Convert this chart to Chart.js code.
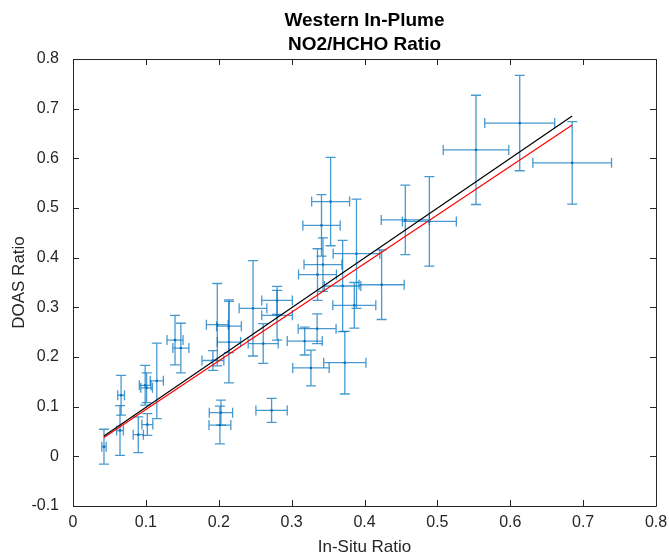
<!DOCTYPE html>
<html>
<head>
<meta charset="utf-8">
<script src="https://cdn.jsdelivr.net/npm/chart.js@4.4.0/dist/chart.umd.min.js"></script>
<style>
  html, body { margin: 0; padding: 0; background: #fff; }
  #wrap { width: 669px; height: 559px; }
</style>
</head>
<body>
<div id="wrap"><canvas id="ratioChart" width="669" height="559"></canvas></div>
<script>
// ===== Data =====
const titleLines = ['Western In-Plume', 'NO2/HCHO Ratio'];
const xLabel = 'In-Situ Ratio';
const yLabel = 'DOAS Ratio';

const xTicks = [0, 0.1, 0.2, 0.3, 0.4, 0.5, 0.6, 0.7, 0.8];
const yTicks = [-0.1, 0, 0.1, 0.2, 0.3, 0.4, 0.5, 0.6, 0.7, 0.8];

// in-situ ratio (x) and DOAS ratio (y)
const inSitu = [0.0425, 0.066, 0.0645, 0.099, 0.101, 0.0896, 0.102, 0.115, 0.140, 0.148,
                0.198, 0.214, 0.214, 0.192, 0.203, 0.2016, 0.2725, 0.247, 0.280, 0.280,
                0.261, 0.335, 0.318, 0.3265, 0.373, 0.370, 0.386, 0.4235, 0.3355, 0.343,
                0.3535, 0.341, 0.389, 0.456, 0.489, 0.553, 0.613, 0.685];
const doas   = [0.0195, 0.123, 0.052, 0.143, 0.138, 0.0436, 0.064, 0.152, 0.234, 0.218,
                0.265, 0.262, 0.230, 0.193, 0.088, 0.063, 0.0925, 0.298, 0.314, 0.284,
                0.227, 0.257, 0.232, 0.178, 0.1885, 0.343, 0.304, 0.3455, 0.366, 0.386,
                0.513, 0.465, 0.408, 0.476, 0.473, 0.617, 0.671, 0.591];
// half-widths of the error bars
const inSituErr = [0.003, 0.0046, 0.0046, 0.008, 0.008, 0.007, 0.0075, 0.009, 0.011, 0.011,
                   0.015, 0.017, 0.016, 0.015, 0.016, 0.015, 0.0215, 0.019, 0.021, 0.021,
                   0.0206, 0.026, 0.024, 0.025, 0.029, 0.025, 0.0295, 0.031, 0.026, 0.026,
                   0.026, 0.0256, 0.032, 0.033, 0.037, 0.045, 0.048, 0.054];
const doasErr   = [0.035, 0.040, 0.050, 0.040, 0.030, 0.036, 0.022, 0.076, 0.050, 0.050,
                   0.083, 0.053, 0.082, 0.020, 0.025, 0.038, 0.024, 0.096, 0.028, 0.050,
                   0.040, 0.030, 0.028, 0.036, 0.063, 0.092, 0.046, 0.070, 0.052, 0.054,
                   0.089, 0.062, 0.110, 0.070, 0.090, 0.110, 0.096, 0.083];

// fit lines (end points)
const fitX      = [0.0425, 0.685];
const blackFitY = [0.041, 0.685];
const redFitY   = [0.038, 0.667];

// ===== Styles =====
const FONT = "'Liberation Sans', Arial, Helvetica, sans-serif";
const AXIS_COLOR = '#262626';
const BLUE = '#0072BD';

// error bars drawn under the markers
const errorBarPlugin = {
    id: 'errorBars',
    beforeDatasetsDraw(chart) {
        const {ctx, chartArea, scales: {x, y}} = chart;
        const cap = 5;
        ctx.save();
        ctx.beginPath();
        ctx.rect(chartArea.left, chartArea.top, chartArea.right - chartArea.left, chartArea.bottom - chartArea.top);
        ctx.clip();
        ctx.strokeStyle = 'rgba(0,114,189,0.72)';
        ctx.lineWidth = 1.3;
        for (let i = 0; i < inSitu.length; i++) {
            const px = x.getPixelForValue(inSitu[i]);
            const py = y.getPixelForValue(doas[i]);
            const x0 = x.getPixelForValue(inSitu[i] - inSituErr[i]);
            const x1 = x.getPixelForValue(inSitu[i] + inSituErr[i]);
            const y0 = y.getPixelForValue(doas[i] - doasErr[i]);
            const y1 = y.getPixelForValue(doas[i] + doasErr[i]);
            ctx.beginPath();
            // vertical
            ctx.moveTo(px, y0); ctx.lineTo(px, y1);
            ctx.moveTo(px - cap, y0); ctx.lineTo(px + cap, y0);
            ctx.moveTo(px - cap, y1); ctx.lineTo(px + cap, y1);
            // horizontal
            ctx.moveTo(x0, py); ctx.lineTo(x1, py);
            ctx.moveTo(x0, py - cap); ctx.lineTo(x0, py + cap);
            ctx.moveTo(x1, py - cap); ctx.lineTo(x1, py + cap);
            ctx.stroke();
        }
        ctx.restore();
    }
};

// MATLAB style box with inward ticks + two line title
const boxPlugin = {
    id: 'box',
    afterDraw(chart) {
        const {ctx, chartArea: a, scales: {x, y}} = chart;
        const t = 6;
        ctx.save();
        ctx.strokeStyle = AXIS_COLOR;
        ctx.lineWidth = 1;
        ctx.beginPath();
        ctx.rect(Math.round(a.left) + 0.5, Math.round(a.top) + 0.5,
                 Math.round(a.right - a.left), Math.round(a.bottom - a.top));
        x.ticks.forEach(tk => {
            const p = Math.round(x.getPixelForValue(tk.value)) + 0.5;
            ctx.moveTo(p, a.bottom); ctx.lineTo(p, a.bottom - t);
            ctx.moveTo(p, a.top); ctx.lineTo(p, a.top + t);
        });
        y.ticks.forEach(tk => {
            const p = Math.round(y.getPixelForValue(tk.value)) + 0.5;
            ctx.moveTo(a.left, p); ctx.lineTo(a.left + t, p);
            ctx.moveTo(a.right, p); ctx.lineTo(a.right - t, p);
        });
        ctx.stroke();

        ctx.fillStyle = '#000';
        ctx.font = 'bold 19px ' + FONT;
        ctx.textAlign = 'center';
        ctx.textBaseline = 'middle';
        const cx = (a.left + a.right) / 2;
        ctx.fillText(titleLines[0], cx, 21);
        ctx.fillText(titleLines[1], cx, 45);
        ctx.restore();
    }
};

const points = inSitu.map((v, i) => ({x: v, y: doas[i]}));

new Chart(document.getElementById('ratioChart'), {
    type: 'scatter',
    data: {
        datasets: [
            {
                label: 'data',
                data: points,
                pointRadius: 1.6,
                pointStyle: 'rect',
                backgroundColor: BLUE,
                borderColor: BLUE,
                borderWidth: 0
            },
            {
                label: 'fit',
                type: 'line',
                data: fitX.map((v, i) => ({x: v, y: blackFitY[i]})),
                borderColor: '#000',
                borderWidth: 1.2,
                pointRadius: 0
            },
            {
                label: 'fit2',
                type: 'line',
                data: fitX.map((v, i) => ({x: v, y: redFitY[i]})),
                borderColor: '#ff0000',
                borderWidth: 1.2,
                pointRadius: 0
            }
        ]
    },
    options: {
        responsive: false,
        animation: false,
        layout: {padding: {top: 59, right: 13, left: 0, bottom: 0}},
        plugins: {legend: {display: false}, tooltip: {enabled: false}, title: {display: false}},
        scales: {
            x: {
                type: 'linear',
                min: 0, max: 0.8,
                afterBuildTicks: s => { s.ticks = xTicks.map(v => ({value: v})); },
                afterFit: s => { s.height = 53; },
                grid: {display: false},
                border: {display: false},
                ticks: {
                    color: AXIS_COLOR, padding: -1,
                    font: {family: FONT, size: 16},
                    callback: v => String(v)
                },
                title: {
                    display: true, text: xLabel, color: AXIS_COLOR,
                    font: {family: FONT, size: 17},
                    padding: {top: 0, bottom: 1}
                }
            },
            y: {
                type: 'linear',
                min: -0.1, max: 0.8,
                afterBuildTicks: s => { s.ticks = yTicks.map(v => ({value: v})); },
                afterFit: s => { s.width = 73; },
                grid: {display: false},
                border: {display: false},
                ticks: {
                    color: AXIS_COLOR, padding: 6,
                    font: {family: FONT, size: 16},
                    callback: v => String(v)
                },
                title: {
                    display: true, text: yLabel, color: AXIS_COLOR,
                    font: {family: FONT, size: 17},
                    padding: {top: 9, bottom: 0}
                }
            }
        }
    },
    plugins: [errorBarPlugin, boxPlugin]
});
</script>
</body>
</html>
